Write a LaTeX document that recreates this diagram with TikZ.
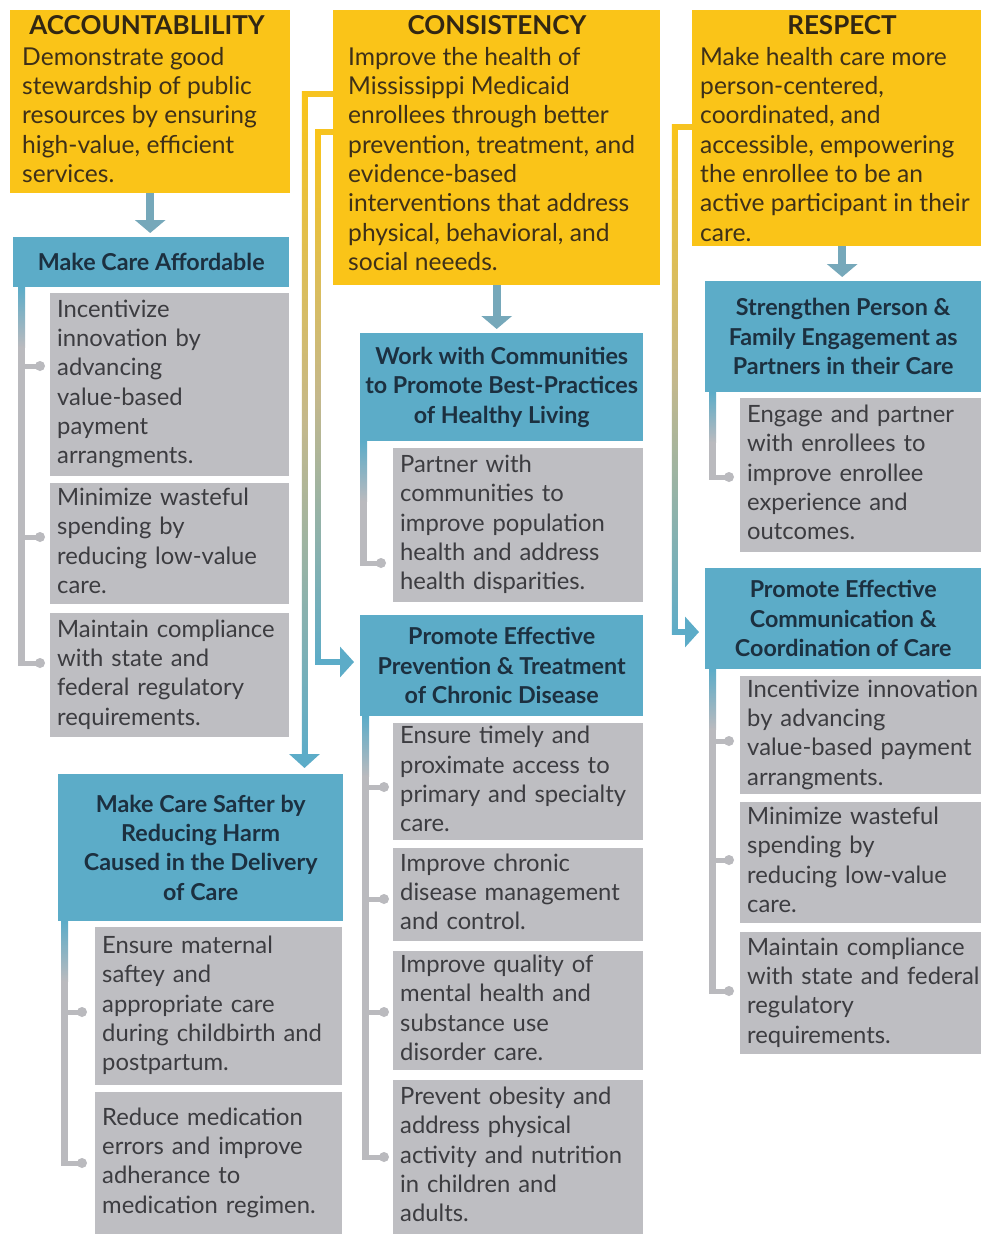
\documentclass[tikz,border=0pt]{standalone}
\usepackage{fontspec}
\setmainfont{Lato}
\usetikzlibrary{arrows.meta,calc}
\definecolor{cyellow}{RGB}{250,196,24}
\definecolor{hblue}{RGB}{92,172,200}
\definecolor{cgray}{RGB}{190,190,194}
\definecolor{stubc}{RGB}{186,186,190}
\definecolor{ytext}{RGB}{62,48,24}
\definecolor{htext}{RGB}{28,48,64}
\definecolor{gtext}{RGB}{60,60,64}
\definecolor{arrc}{RGB}{118,168,186}
\definecolor{ymid}{RGB}{196,184,140}
\pgfdeclareverticalshading{yshade}{100bp}{color(0bp)=(hblue); color(25bp)=(hblue); color(50bp)=(ymid); color(75bp)=(cyellow); color(100bp)=(cyellow)}
\newcommand{\lns}[1]{\begin{tabular}{@{}l@{}}#1\end{tabular}}
\newcommand{\bodyfont}{\fontsize{24.6}{29.3}\selectfont}
\newcommand{\grayfont}{\fontsize{23.8}{29.3}\selectfont}
\newcommand{\headfont}{\fontsize{23.3}{29.4}\selectfont\bfseries}
\newcommand{\titlefont}{\fontsize{26}{29}\selectfont\bfseries}
\begin{document}
\begin{tikzpicture}[x=1pt,y=-1pt,
  ybox/.style={fill=cyellow, draw=none, inner sep=0pt, anchor=north west},
  ybody/.style={anchor=north west, inner sep=0pt, font=\bodyfont, text=ytext},
  ytitle/.style={anchor=base, inner sep=0pt, font=\titlefont, text=ytext!80!black},
  hbox/.style={fill=hblue, draw=none, inner sep=0pt, anchor=north west, align=center, font=\headfont, text=htext},
  gbox/.style={fill=cgray, draw=none, inner xsep=7pt, inner ysep=0pt, anchor=north west, align=left, font=\grayfont, text=gtext},
  darrow/.style={draw=arrc, line width=8pt, -{Triangle[width=30pt,length=13pt]}, shorten >=4pt},
  ylink/.style={draw=cyellow!92!ymid, line width=5.5pt},
  blink/.style={draw=hblue, line width=5.5pt, -{Triangle[width=30pt,length=14pt]}, shorten >=6pt},
  stub/.style={draw=stubc, line width=5pt},
  dot/.style={fill=stubc}
]
\fill[white] (0,0) rectangle (981,1234);
\useasboundingbox (0,0) rectangle (981,1234);

% ---------- yellow goal boxes ----------
\node[ybox, minimum width=280pt, minimum height=183pt] (acc) at (10,10) {};
\node[ybox, minimum width=327pt, minimum height=275pt] (cons) at (333,10) {};
\node[ybox, minimum width=289pt, minimum height=236pt] (resp) at (692,10) {};

\node[ytitle] (acc-t) at (147,34) {ACCOUNTABLILITY};
\node[ytitle] (cons-t) at (497,34) {CONSISTENCY};
\node[ytitle] (resp-t) at (842,34) {RESPECT};

\node[ybody] (acc-b) at ($(acc.north west)+(12,34.5)$) {\lns{Demonstrate good\\stewardship of public\\resources by ensuring\\high-value, efficient\\services.}};
\node[ybody] (cons-b) at ($(cons.north west)+(15,34.5)$) {\lns{Improve the health of\\Mississippi Medicaid\\enrollees through better\\prevention, treatment, and\\evidence-based\\interventions that address\\physical, behavioral, and\\social neeeds.}};
\node[ybody] (resp-b) at ($(resp.north west)+(8,34.5)$) {\lns{Make health care more\\person-centered,\\coordinated, and\\accessible, empowering\\the enrollee to be an\\active participant in their\\care.}};

% ---------- blue objective headers ----------
\node[hbox, minimum width=276pt, minimum height=50pt] (aff) at (13,237) {Make Care Affordable};
\node[hbox, minimum width=283pt, minimum height=108pt] (work) at (360,333) {Work with Communities\\to Promote Best-Practices\\of Healthy Living};
\node[hbox, minimum width=283pt, minimum height=101pt] (prev) at (360,615) {Promote Effective\\Prevention \& Treatment\\of Chronic Disease};
\node[hbox, minimum width=285pt, minimum height=147pt] (safe) at (58,774) {Make Care Safter by\\Reducing Harm\\Caused in the Delivery\\of Care};
\node[hbox, minimum width=276pt, minimum height=111pt] (str) at (705,281) {Strengthen Person \&\\Family Engagement as\\Partners in their Care};
\node[hbox, minimum width=276pt, minimum height=101pt] (comm) at (705,568) {Promote Effective\\Communication \&\\Coordination of Care};

% ---------- gray strategy boxes ----------
\node[gbox, minimum width=239pt, minimum height=183pt, text width=225pt] (g1a) at (50,293) {\lns{Incentivize\\innovation by\\advancing\\value-based\\payment\\arrangments.}};
\node[gbox, minimum width=239pt, minimum height=121pt, text width=225pt] (g1b) at (50,483) {\lns{Minimize wasteful\\spending by\\reducing low-value\\care.}};
\node[gbox, minimum width=239pt, minimum height=124pt, text width=225pt] (g1c) at (50,613) {\lns{Maintain compliance\\with state and\\federal regulatory\\requirements.}};

\node[gbox, minimum width=250pt, minimum height=154pt, text width=236pt] (g2a) at (393,448) {\lns{Partner with\\communities to\\improve population\\health and address\\health disparities.}};
\node[gbox, minimum width=250pt, minimum height=116pt, text width=236pt] (g2b) at (393,723) {\lns{Ensure timely and\\proximate access to\\primary and specialty\\care.}};
\node[gbox, minimum width=250pt, minimum height=93pt, text width=236pt] (g2c) at (393,848) {\lns{Improve chronic\\disease management\\and control.}};
\node[gbox, minimum width=250pt, minimum height=119pt, text width=236pt] (g2d) at (393,951) {\lns{Improve quality of\\mental health and\\substance use\\disorder care.}};
\node[gbox, minimum width=250pt, minimum height=154pt, text width=236pt] (g2e) at (393,1080) {\lns{Prevent obesity and\\address physical\\activity and nutrition\\in children and\\adults.}};

\node[gbox, minimum width=247pt, minimum height=158pt, text width=233pt] (g3a) at (95,927) {\lns{Ensure maternal\\saftey and\\appropriate care\\during childbirth and\\postpartum.}};
\node[gbox, minimum width=247pt, minimum height=142pt, text width=233pt] (g3b) at (95,1092) {\lns{Reduce medication\\errors and improve\\adherance to\\medication regimen.}};

\node[gbox, minimum width=241pt, minimum height=154pt, text width=227pt] (g4a) at (740,398) {\lns{Engage and partner\\with enrollees to\\improve enrollee\\experience and\\outcomes.}};
\node[gbox, minimum width=241pt, minimum height=118pt, text width=227pt] (g4b) at (740,676) {\lns{Incentivize innovation\\by advancing\\value-based payment\\arrangments.}};
\node[gbox, minimum width=241pt, minimum height=121pt, text width=227pt] (g4c) at (740,802) {\lns{Minimize wasteful\\spending by\\reducing low-value\\care.}};
\node[gbox, minimum width=241pt, minimum height=122pt, text width=227pt] (g4d) at (740,932) {\lns{Maintain compliance\\with state and federal\\regulatory\\requirements.}};

% ---------- arrows goal -> first objective ----------
\draw[darrow] (acc.south) -- (acc.south |- aff.north);
\draw[darrow] (cons.south) -- (cons.south |- work.north);
\coordinate (ra) at ($(resp.south)+(5.5,0)$);
\draw[darrow] (ra) -- (ra |- str.north);

% ---------- yellow-to-blue connectors ----------
\coordinate (c1) at (304.5,94);
\draw[ylink] (cons.west |- c1) -- ($(c1)+(-2.75,0)$);
\shade[shading=yshade] ($(c1)+(-2.75,-2.75)$) rectangle ($(c1 |- safe.north)+(2.75,-19)$);
\draw[blink] ($(c1 |- safe.north)+(0,-21)$) -- (c1 |- safe.north);

\coordinate (c2) at (318,132);
\coordinate (c2b) at (318,662);
\draw[ylink] (cons.west |- c2) -- ($(c2)+(-2.75,0)$);
\shade[shading=yshade] ($(c2)+(-2.75,-2.75)$) rectangle ($(c2b)+(2.75,2.75)$);
\draw[blink] ($(c2b)+(-2.75,0)$) -- (prev.west |- c2b);

\coordinate (c3) at (674.5,127);
\coordinate (c3b) at (674.5,632);
\draw[ylink] (resp.west |- c3) -- ($(c3)+(-2.75,0)$);
\shade[shading=yshade] ($(c3)+(-2.75,-2.75)$) rectangle ($(c3b)+(2.75,2.75)$);
\draw[blink] ($(c3b)+(-2.75,0)$) -- (comm.west |- c3b);

% ---------- bracket bars with dots ----------
% column 1: Make Care Affordable
\coordinate (b1) at ($(aff.south west)+(8.5,0)$);
\coordinate (d1a) at (40,366);
\coordinate (d1b) at (40,537);
\coordinate (d1c) at (40,663);
\shade[top color=hblue, bottom color=stubc] ($(b1)+(-3.5,0)$) rectangle ($(b1)+(3.5,60)$);
\fill[stubc] ($(b1)+(-3.5,60)$) rectangle ($(b1 |- d1c)+(3.5,2.5)$);
\draw[stub] (b1 |- d1a) -- (d1a);
\draw[stub] (b1 |- d1b) -- (d1b);
\draw[stub] ($(b1 |- d1c)+(-3.5,0)$) -- (d1c);
\fill[dot] (d1a) circle[radius=5pt] (d1b) circle[radius=5pt] (d1c) circle[radius=5pt];

% Work with Communities
\coordinate (b2) at ($(work.south west)+(3.5,0)$);
\coordinate (d2a) at (381,563);
\shade[top color=hblue, bottom color=stubc] ($(b2)+(-3.5,0)$) rectangle ($(b2)+(3.5,60)$);
\fill[stubc] ($(b2)+(-3.5,60)$) rectangle ($(b2 |- d2a)+(3.5,2.5)$);
\draw[stub] ($(b2 |- d2a)+(-3.5,0)$) -- (d2a);
\fill[dot] (d2a) circle[radius=5pt];

% Promote Effective Prevention
\coordinate (b3) at ($(prev.south west)+(5.5,0)$);
\coordinate (d3a) at (384,787);
\coordinate (d3b) at (384,899);
\coordinate (d3c) at (384,1012);
\coordinate (d3d) at (384,1157);
\shade[top color=hblue, bottom color=stubc] ($(b3)+(-3.5,0)$) rectangle ($(b3)+(3.5,60)$);
\fill[stubc] ($(b3)+(-3.5,60)$) rectangle ($(b3 |- d3d)+(3.5,2.5)$);
\draw[stub] (b3 |- d3a) -- (d3a);
\draw[stub] (b3 |- d3b) -- (d3b);
\draw[stub] (b3 |- d3c) -- (d3c);
\draw[stub] ($(b3 |- d3d)+(-3.5,0)$) -- (d3d);
\fill[dot] (d3a) circle[radius=5pt] (d3b) circle[radius=5pt] (d3c) circle[radius=5pt] (d3d) circle[radius=5pt];

% Make Care Safter
\coordinate (b4) at ($(safe.south west)+(6.5,0)$);
\coordinate (d4a) at (82,1012);
\coordinate (d4b) at (82,1163);
\shade[top color=hblue, bottom color=stubc] ($(b4)+(-3.5,0)$) rectangle ($(b4)+(3.5,60)$);
\fill[stubc] ($(b4)+(-3.5,60)$) rectangle ($(b4 |- d4b)+(3.5,2.5)$);
\draw[stub] (b4 |- d4a) -- (d4a);
\draw[stub] ($(b4 |- d4b)+(-3.5,0)$) -- (d4b);
\fill[dot] (d4a) circle[radius=5pt] (d4b) circle[radius=5pt];

% Strengthen Person
\coordinate (b5) at ($(str.south west)+(7.5,0)$);
\coordinate (d5a) at (729,477);
\shade[top color=hblue, bottom color=stubc] ($(b5)+(-3.5,0)$) rectangle ($(b5)+(3.5,50)$);
\fill[stubc] ($(b5)+(-3.5,50)$) rectangle ($(b5 |- d5a)+(3.5,2.5)$);
\draw[stub] ($(b5 |- d5a)+(-3.5,0)$) -- (d5a);
\fill[dot] (d5a) circle[radius=5pt];

% Promote Effective Communication
\coordinate (b6) at ($(comm.south west)+(7.5,0)$);
\coordinate (d6a) at (729,741);
\coordinate (d6b) at (729,860);
\coordinate (d6c) at (729,991);
\shade[top color=hblue, bottom color=stubc] ($(b6)+(-3.5,0)$) rectangle ($(b6)+(3.5,60)$);
\fill[stubc] ($(b6)+(-3.5,60)$) rectangle ($(b6 |- d6c)+(3.5,2.5)$);
\draw[stub] (b6 |- d6a) -- (d6a);
\draw[stub] (b6 |- d6b) -- (d6b);
\draw[stub] ($(b6 |- d6c)+(-3.5,0)$) -- (d6c);
\fill[dot] (d6a) circle[radius=5pt] (d6b) circle[radius=5pt] (d6c) circle[radius=5pt];
\end{tikzpicture}
\end{document}
